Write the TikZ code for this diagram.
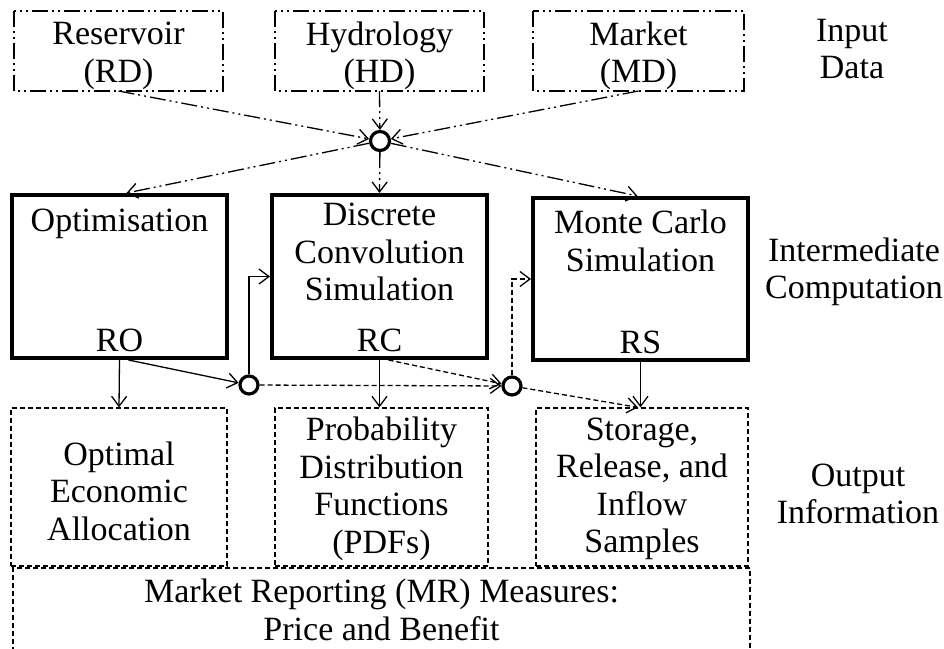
\documentclass[tikz,border=0pt]{standalone}
\usepackage{fontspec}
\setmainfont{Liberation Serif}
\usetikzlibrary{arrows.meta,calc}
\begin{document}
\begin{tikzpicture}[x=1pt,y=-1pt,
  font=\fontsize{34}{37.5}\selectfont,
  dashdotdot/.style={dash pattern=on 16pt off 4pt on 2pt off 4pt on 2pt off 4pt},
  inbox/.style={draw,line width=1.3pt,dashdotdot},
  compbox/.style={draw,line width=4pt},
  outbox/.style={draw,line width=1.3pt,dash pattern=on 5pt off 3pt},
  junction/.style={circle,draw,line width=3.2pt,minimum size=19pt,inner sep=0pt,fill=white},
  txt/.style={align=center,inner sep=0pt},
  conn/.style={line width=1.3pt,-{Straight Barb[length=10pt,width=15pt]}},
  dconn/.style={conn,dash pattern=on 5pt off 3pt},
  iconn/.style={conn,dashdotdot}
]
\useasboundingbox (0,0) rectangle (944,648);

% input data boxes
\draw[inbox] (14,11) rectangle (223,91);
\draw[inbox] (275,11) rectangle (484,91);
\draw[inbox] (533,11) rectangle (744,91);
\coordinate (RD) at (118.5,91);
\coordinate (HD) at (379.5,91);
\coordinate (MD) at (638.5,91);
\node[txt] (rdt) at (118.5,56) {Reservoir\\(RD)};
\node[txt] (hdt) at (379.5,56) {Hydrology\\(HD)};
\node[txt] (mdt) at (638.5,56) {Market\\(MD)};

% intermediate computation boxes
\node[compbox,minimum width=215pt,minimum height=163pt,inner sep=0pt] (OPT) at (119.5,276.5) {};
\node[compbox,minimum width=215pt,minimum height=163pt,inner sep=0pt] (DCS) at (379.5,276.5) {};
\node[compbox,minimum width=215pt,minimum height=162pt,inner sep=0pt] (MCS) at (640.5,279) {};
\node[txt,anchor=north] (optt) at ($(OPT.north)+(0,16)$) {Optimisation};
\node[txt,anchor=north] (dcst) at ($(DCS.north)+(0,10)$) {Discrete\\Convolution\\Simulation};
\node[txt,anchor=north] (mcst) at ($(MCS.north)+(0,14)$) {Monte Carlo\\Simulation};
\node[txt,anchor=south] (ro) at ($(OPT.south)+(0,-8)$) {RO};
\node[txt,anchor=south] (rc) at ($(DCS.south)+(0,-8)$) {RC};
\node[txt,anchor=south] (rs) at ($(MCS.south)+(0,-8)$) {RS};

% output information boxes
\node[outbox,minimum width=216pt,minimum height=158pt,inner sep=0pt] (OEA) at (119,487) {};
\node[outbox,minimum width=213pt,minimum height=158pt,inner sep=0pt] (PDF) at (381.5,487) {};
\node[outbox,minimum width=212pt,minimum height=158pt,inner sep=0pt] (SRI) at (642,487) {};
\node[txt] (oeat) at ($(OEA.center)+(0,4)$) {Optimal\\Economic\\Allocation};
\node[txt] (pdft) at ($(PDF.center)+(0,2)$) {Probability\\Distribution\\Functions\\(PDFs)};
\node[txt] (srit) at ($(SRI.center)+(0,2)$) {Storage,\\Release, and\\Inflow\\Samples};

% market reporting box, open at the lower edge
\coordinate (MRbl) at (13,652);
\coordinate (MRtl) at (13,568);
\coordinate (MRtr) at (750,568);
\coordinate (MRbr) at (750,652);
\draw[outbox] (MRbl) -- (MRtl) -- (MRtr) -- (MRbr);
\node[txt] (mrt) at (381.5,610) {Market Reporting (MR) Measures:\\Price and Benefit};

% row labels
\node[txt] (lin) at (852,49) {Input\\Data};
\node[txt] (lic) at (854,272) {Intermediate\\Computation};
\node[txt] (lio) at (858,494) {Output\\Information};

% junctions
\node[junction] (c0) at (380,141) {};
\node[junction,minimum size=18pt] (c1) at (249,385) {};
\node[junction,minimum size=18pt] (c2) at (512,386) {};

% input data to the upper junction and on to the computations
\draw[iconn] (RD) -- (c0);
\draw[iconn] (HD) -- (c0);
\draw[iconn] (MD) -- (c0);
\draw[iconn] (c0) -- ($(OPT.north)+(7,0)$);
\draw[iconn] (c0) -- (DCS.north);
\draw[iconn] (c0) -- ($(MCS.north)+(-3,0)$);

% optimisation results
\draw[conn] (OPT.south) -- (OEA.north);
\draw[conn] ($(OPT.south)+(9,0)$) -- (c1);
\draw[conn] (c1.north) |- (DCS.west);
\draw[dconn] (c1) -- (c2);

% convolution results
\draw[conn] (DCS.south) -- ($(PDF.north)+(-2,0)$);
\draw[dconn] ($(DCS.south)+(9,0)$) -- (c2);
\draw[dconn] (c2.north) |- (MCS.west);
\draw[dconn] (c2) -- ($(SRI.north)+(-4,0)$);

% simulation results
\draw[conn] (MCS.south) -- ($(SRI.north)+(-1.5,0)$);
\end{tikzpicture}
\end{document}
